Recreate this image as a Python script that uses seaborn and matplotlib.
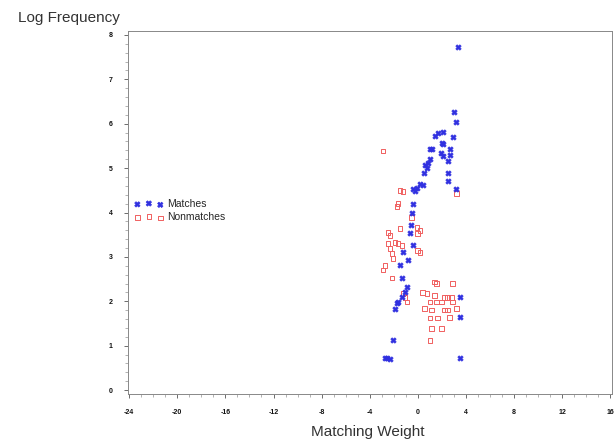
import numpy as np
import pandas as pd
import matplotlib
matplotlib.use("Agg")
import matplotlib.pyplot as plt
import seaborn as sns
from matplotlib.ticker import MultipleLocator

# Matches (blue)
match_x = [3.32, 2.99, 3.15, 2.90, 1.66, 2.07, 1.41, 1.99, 2.07, 2.66, 1.16, 1.00,
           1.91, 2.07, 2.66, 2.49, 1.00, 0.83, 0.58, 0.75, 0.50, 2.49, 2.49, 0.17,
           0.41, -0.08, -0.25, -0.41, 3.15, -0.41, -0.50, -0.58, -0.66, -0.41, -1.24,
           -0.83, -1.49, -1.33, -0.91, -1.08, -1.33, -1.66, -1.74, -1.91, 3.49, 3.49,
           -2.07, -2.74, -2.57, -2.32, 3.49]
match_y = [7.73, 6.27, 6.04, 5.71, 5.80, 5.82, 5.73, 5.57, 5.55, 5.44, 5.44, 5.44,
           5.33, 5.28, 5.30, 5.17, 5.21, 5.12, 5.06, 5.01, 4.90, 4.90, 4.72, 4.65,
           4.61, 4.56, 4.49, 4.52, 4.54, 4.20, 4.00, 3.71, 3.53, 3.26, 3.10,
           2.92, 2.81, 2.52, 2.31, 2.20, 2.09, 1.98, 1.96, 1.82, 2.09, 1.64,
           1.12, 0.72, 0.72, 0.70, 0.72]

# Nonmatches (red)
non_x = [-2.90, -1.49, -1.24, 3.24, -1.66, -1.74, -0.50, -0.08, 0.17, 0.00, -1.49,
         -2.49, -2.32, -1.91, -1.66, -1.33, -2.49, -2.32, 0.00, 0.17, -2.16, -2.07,
         -2.74, -2.90, -2.16, 1.41, 1.58, 2.90, 0.41, 0.75, -1.24, -1.08, -0.91,
         2.24, 2.49, 2.82, 1.41, 1.00, 1.58, 1.99, 2.90, 0.58, 1.16, 2.24, 2.49,
         3.24, 1.00, 1.66, 2.66, 1.16, 1.99, 1.00]
non_y = [5.39, 4.49, 4.47, 4.43, 4.20, 4.13, 3.89, 3.66, 3.60, 3.53, 3.64,
         3.55, 3.48, 3.33, 3.30, 3.26, 3.30, 3.19, 3.15, 3.10, 3.08, 2.97,
         2.81, 2.70, 2.52, 2.43, 2.40, 2.40, 2.20, 2.18, 2.18, 2.09, 1.98,
         2.09, 2.09, 2.09, 2.13, 1.98, 1.98, 1.98, 1.98, 1.84, 1.80, 1.80, 1.80,
         1.84, 1.62, 1.62, 1.64, 1.39, 1.39, 1.12]

x_ticks = [-24, -20, -16, -12, -8, -4, 0, 4, 8, 12, 16]
y_ticks = [0, 1, 2, 3, 4, 5, 6, 7, 8]

df_m = pd.DataFrame({"w": match_x, "f": match_y})
df_n = pd.DataFrame({"w": non_x, "f": non_y})

sns.set_style("white")
plt.rcParams["font.family"] = ["Liberation Sans", "DejaVu Sans"]

fig = plt.figure(figsize=(6.16, 4.46), dpi=100)
ax = fig.add_axes([128/616, 1-394/446, 484/616, 363/446])

sns.scatterplot(data=df_m, x="w", y="f", ax=ax, marker="X", s=15, color="#3030e0",
                edgecolor="#3030e0", linewidth=0.5, label="Matches", zorder=3)
sns.scatterplot(data=df_n, x="w", y="f", ax=ax, marker="s", s=11, facecolor="none",
                edgecolor="#f06060", linewidth=0.7, label="Nonmatches", zorder=2)

ax.set_xlim(-24.1, 16.15)
ax.set_ylim(-0.09, 8.09)
ax.set_xticks(x_ticks)
ax.set_yticks(y_ticks)
ax.set_xticklabels([str(t) for t in x_ticks], fontweight="bold")
ax.set_yticklabels([str(t) for t in y_ticks], fontweight="bold")
ax.xaxis.set_minor_locator(MultipleLocator(1))
ax.yaxis.set_minor_locator(MultipleLocator(0.2))
ax.tick_params(which="major", direction="out", length=3, width=0.6, labelsize=5,
               color="#555555", labelcolor="#111111", bottom=True, left=True)
ax.tick_params(which="minor", direction="out", length=2, width=0.4, color="#777777",
               bottom=True, left=True)
ax.tick_params(axis="x", pad=8)
ax.tick_params(axis="y", pad=8)
for sp in ax.spines.values():
    sp.set_color("#888888")
    sp.set_linewidth(0.7)

ax.set_xlabel("")
ax.set_ylabel("")
fig.text(368/616, 1-432/446, "Matching Weight", ha="center", va="center",
         fontsize=11, color="#333333")
fig.text(18/616, 1-18/446, "Log Frequency", ha="left", va="center",
         fontsize=11, color="#333333")

ax.legend(loc="center left", bbox_to_anchor=(0.0, 0.505), frameon=False,
          scatterpoints=3, fontsize=7.5, handletextpad=0.4, labelspacing=0.3,
          borderaxespad=0.2, handlelength=2.8)

fig.savefig("out.png", dpi=100)
